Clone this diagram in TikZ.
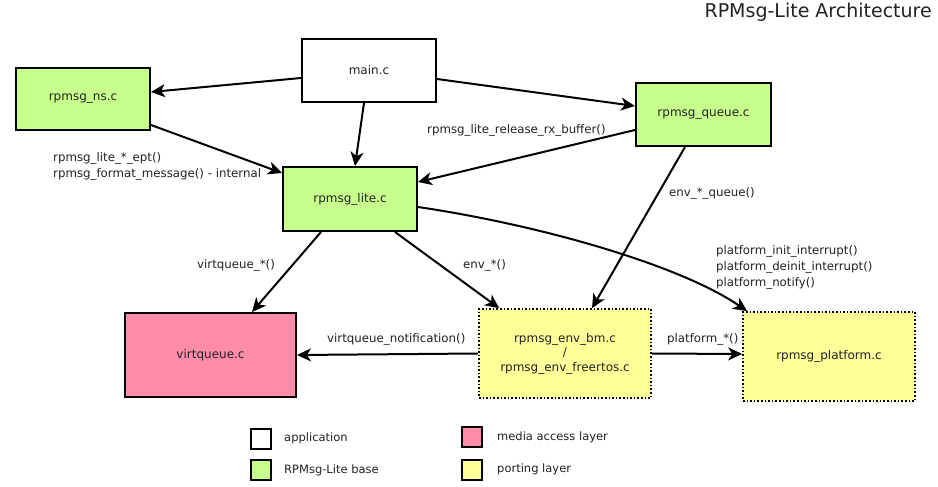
\documentclass[tikz,border=0pt]{standalone}
\usepackage{fontspec}
\setmainfont{DejaVu Sans}
\usetikzlibrary{arrows.meta}
\definecolor{appwhite}{HTML}{FFFFFF}
\definecolor{basegreen}{HTML}{C8FF8C}
\definecolor{mediapink}{HTML}{FF8CAA}
\definecolor{portyellow}{HTML}{FFFF99}
\definecolor{inkgray}{HTML}{222222}
\begin{document}
\begin{tikzpicture}[x=1pt,y=-1pt,
  font=\fontsize{12}{14.5}\selectfont,
  every node/.style={text=inkgray},
  module/.style={draw=black, line width=2pt, minimum width=#1, inner sep=0pt},
  appbox/.style={module=134pt, fill=appwhite, minimum height=63pt},
  basebox/.style={module=134pt, fill=basegreen, minimum height=63pt},
  mediabox/.style={module=171pt, fill=mediapink, minimum height=84pt},
  portbox/.style={draw=black, line width=1.6pt, dotted, fill=portyellow,
                  minimum width=172pt, minimum height=89pt, inner sep=0pt, align=center},
  call/.style={-{Stealth[length=14pt,width=13pt,inset=4pt]}, line width=2pt, black},
  lbl/.style={anchor=west, align=left, inner sep=0pt, font=\fontsize{11.8}{16}\selectfont},
  swatch/.style={draw=black, line width=2pt, minimum width=20pt, minimum height=20pt, inner sep=0pt},
  keytext/.style={anchor=west, inner sep=0pt, font=\fontsize{11.5}{13}\selectfont}]
\useasboundingbox (0,0) rectangle (938,487);

% title
\node[anchor=east, inner sep=0pt, font=\fontsize{19}{22}\selectfont] (title) at (932,12) {RPMsg-Lite Architecture};

% modules
\node[appbox] (main) at (369,70.5) {main.c};
\node[basebox, minimum height=62pt] (ns) at (83,99) {rpmsg\_ns.c};
\node[basebox, minimum height=64pt] (lite) at (350,199) {rpmsg\_lite.c};
\node[basebox, minimum width=135pt] (queue) at (703.5,114.5) {rpmsg\_queue.c};
\node[mediabox] (vq) at (210.5,355) {virtqueue.c};
\node[portbox] (env) at (565,353.5) {rpmsg\_env\_bm.c\\/\\rpmsg\_env\_freertos.c};
\node[portbox] (plat) at (829,356.5) {rpmsg\_platform.c};

% calls between modules
\draw[call] ([yshift=-7.5pt]main.west) -- ([yshift=7pt]ns.east);
\draw[call] ([xshift=-5pt]main.south) -- ([xshift=5pt]lite.north);
\draw[call] ([yshift=-8.5pt]main.east) -- ([yshift=8.5pt]queue.west);
\draw[call] ([yshift=6pt]ns.south east) -- ([yshift=-7pt]lite.north west);
\draw[call] ([yshift=-15.5pt]queue.west) -- ([yshift=17pt]lite.east);
\draw[call] ([xshift=-18.5pt]queue.south) -- ([xshift=27pt]env.north);
\draw[call] ([xshift=-29pt]lite.south) -- ([xshift=41.5pt]vq.north);
\draw[call] ([xshift=45pt]lite.south) -- ([xshift=21pt]env.north west);
\draw[call] (env.west) -- (vq.east);
\draw[call] (env.east) -- ([yshift=2.5pt]plat.west);
\draw[call] ([yshift=-8pt]lite.east) .. controls (540,225) and (680,265) .. ([xshift=5pt]plat.north west);

% call labels
\node[lbl] (lns) at (53,166.5) {rpmsg\_lite\_*\_ept()\\rpmsg\_format\_message() - internal};
\node[lbl] (lrel) at (427,130) {rpmsg\_lite\_release\_rx\_buffer()};
\node[lbl] (lenvq) at (669,193) {env\_*\_queue()};
\node[lbl] (lvq) at (197,265) {virtqueue\_*()};
\node[lbl] (lenv) at (463,265) {env\_*()};
\node[lbl] (lnotif) at (327,339) {virtqueue\_notification()};
\node[lbl] (lplat) at (667,339) {platform\_*()};
\node[lbl] (lint) at (716,267.5) {platform\_init\_interrupt()\\platform\_deinit\_interrupt()\\platform\_notify()};

% legend
\node[swatch, fill=appwhite] (k1) at (261,439) {};
\node[keytext] (t1) at (284,438) {application};
\node[swatch, fill=basegreen] (k2) at (261,470) {};
\node[keytext] (t2) at (284,470) {RPMsg-Lite base};
\node[swatch, fill=mediapink] (k3) at (472,437) {};
\node[keytext] (t3) at (497,437) {media access layer};
\node[swatch, fill=portyellow] (k4) at (472,469.5) {};
\node[keytext] (t4) at (497,469) {porting layer};
\end{tikzpicture}
\end{document}
